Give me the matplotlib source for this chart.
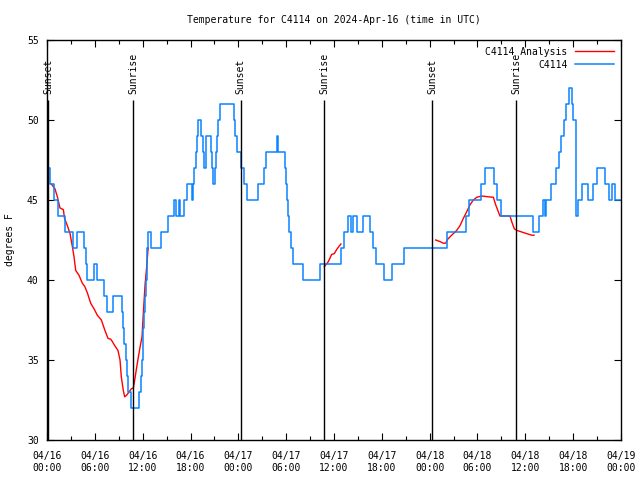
import numpy as np
import matplotlib
matplotlib.use("Agg")
import matplotlib.pyplot as plt

# hours since 2024-04-16 00:00 UTC
obs_hours = [0.05, 0.4, 0.85, 1.4, 2.3, 3.3, 3.8, 4.6, 4.85, 5.05, 5.9, 6.3, 7.2, 7.55, 8.3,
             9.35, 9.55, 9.7, 9.85, 10.0, 10.2, 10.5, 11.6, 11.75, 11.9, 12.0, 12.1, 12.2,
             12.3, 12.4, 12.5, 12.6, 12.65, 13.1, 14.25, 15.2, 15.95, 16.2, 16.5, 16.7, 17.2,
             17.6, 18.15, 18.35, 18.5, 18.65, 18.8, 19.0, 19.3, 19.6, 19.75, 19.9, 20.6, 20.7,
             20.85, 21.05, 21.2, 21.35, 21.5, 21.7, 23.4, 23.6, 23.8, 24.0, 24.35, 24.7, 25.1,
             26.5, 27.2, 27.5, 28.85, 29.0, 29.8, 29.95, 30.1, 30.25, 30.4, 30.6, 30.8, 32.1,
             34.2, 36.9, 37.3, 37.7, 38.1, 38.4, 38.9, 39.7, 40.5, 40.9, 41.3, 42.3, 43.3, 44.8,
             50.2, 52.5, 52.9, 54.4, 54.9, 56.1, 56.5, 56.9, 60.9, 61.75, 62.25, 62.45, 62.65,
             63.2, 63.8, 64.2, 64.5, 64.85, 65.15, 65.45, 65.8, 65.95, 66.3, 66.65, 67.05, 67.8,
             68.5, 69.05, 70.0, 70.5, 70.9, 71.2, 72.0]
obs_temps = [47, 46, 45, 44, 43, 42, 43, 42, 41, 40, 41, 40, 39, 38, 39,
             38, 37, 36, 35, 34, 33, 32, 33, 34, 35, 36, 37, 38,
             39, 40, 41, 42, 43, 42, 43, 44, 45, 44, 45, 44, 45,
             46, 45, 46, 47, 48, 49, 50, 49, 48, 47, 49, 48, 47,
             46, 47, 48, 49, 50, 51, 50, 49, 48, 48, 47, 46, 45,
             46, 47, 48, 49, 48, 47, 46, 45, 44, 43, 42, 41, 40,
             41, 42, 43, 44, 43, 44, 43, 44, 43, 42, 41, 40, 41, 42,
             43, 44, 45, 46, 47, 46, 45, 44, 43, 44, 45, 44, 45,
             46, 47, 48, 49, 50, 51, 52, 51, 50, 44, 45, 46, 45,
             46, 47, 46, 45, 46, 45, 45]

# analysis series, three separate runs
ana1_hours = [0.54, 1.0, 1.3, 1.63, 2.05, 2.2, 2.55, 2.89, 3.05, 3.18, 3.39, 3.6, 4.01, 4.43,
              4.73, 5.06, 5.48, 5.9, 6.31, 6.82, 7.23, 7.65, 7.99, 8.2, 8.49, 8.9, 9.16, 9.32,
              9.57, 9.74, 9.99, 10.29, 10.58, 10.83, 11.0, 11.33, 11.67, 11.92, 12.08, 12.3,
              12.5, 12.65, 12.7]
ana1_temps = [46.0, 45.7, 45.2, 44.5, 44.4, 43.85, 43.4, 42.9, 42.45, 42.1, 41.45, 40.6, 40.3,
              39.8, 39.6, 39.2, 38.55, 38.2, 37.8, 37.5, 36.9, 36.35, 36.3, 36.15, 35.9, 35.6,
              35.0, 33.95, 33.1, 32.7, 32.8, 33.0, 33.2, 33.25, 33.75, 34.8, 35.8, 36.45, 37.9,
              39.7, 40.8, 41.8, 42.0]
ana2_hours = [34.78, 35.29, 35.71, 36.04, 36.33, 36.62, 36.87]
ana2_temps = [40.83, 41.15, 41.6, 41.65, 41.9, 42.1, 42.25]
ana3_hours = [48.75, 49.3, 49.71, 50.01, 50.26, 50.76, 51.39, 51.81, 52.22, 52.65, 53.06, 53.48,
              53.9, 54.53, 55.36, 55.99, 56.28, 56.61, 56.82, 57.45, 58.08, 58.29, 58.62, 58.92,
              59.55, 60.17, 60.8, 61.09]
ana3_temps = [42.5, 42.4, 42.3, 42.3, 42.55, 42.8, 43.1, 43.4, 43.85, 44.27, 44.7, 45.0, 45.17,
              45.25, 45.2, 45.17, 44.7, 44.27, 44.0, 44.0, 44.0, 43.65, 43.2, 43.1, 43.0, 42.9,
              42.8, 42.8]

sun_hours = [0.15, 10.83, 24.3, 34.8, 48.33, 58.87]
sun_labels = ["Sunset", "Sunrise", "Sunset", "Sunrise", "Sunset", "Sunrise"]

xtick_hours = [0, 6, 12, 18, 24, 30, 36, 42, 48, 54, 60, 66, 72]
xtick_labels = ["04/16\n00:00", "04/16\n06:00", "04/16\n12:00", "04/16\n18:00",
                "04/17\n00:00", "04/17\n06:00", "04/17\n12:00", "04/17\n18:00",
                "04/18\n00:00", "04/18\n06:00", "04/18\n12:00", "04/18\n18:00",
                "04/19\n00:00"]

mono = "DejaVu Sans Mono"
fs = 7

fig = plt.figure(figsize=(6.4, 4.8), dpi=100)
ax = fig.add_axes([47/640, 40/480, 574/640, 400/480])

red = "#ff0000"
blue = "#0a84ff"

ax.plot(ana1_hours, ana1_temps, color=red, lw=1, label="C4114 Analysis")
ax.plot(ana2_hours, ana2_temps, color=red, lw=1)
ax.plot(ana3_hours, ana3_temps, color=red, lw=1)
ax.plot(obs_hours, obs_temps, color=blue, lw=1.1, drawstyle="steps-post", label="C4114")

for h, lab in zip(sun_hours, sun_labels):
    ax.vlines(h, 30, 51.25, color="black", lw=1)
    ax.text(h, 51.6, lab, rotation=90, ha="center", va="bottom",
            family=mono, fontsize=fs)

ax.set_xlim(0, 72)
ax.set_ylim(30, 55)
ax.set_xticks(xtick_hours)
ax.set_xticklabels(xtick_labels, family=mono, fontsize=fs)
ax.set_xticks(np.arange(0, 73, 3), minor=True)
ax.set_yticks([30, 35, 40, 45, 50, 55])
ax.set_yticklabels(["30", "35", "40", "45", "50", "55"], family=mono, fontsize=fs)
ax.tick_params(which="both", direction="in", top=True, right=True, width=0.8)
ax.tick_params(which="major", length=5)
ax.tick_params(which="minor", length=3)
ax.tick_params(axis="x", pad=8)
ax.tick_params(axis="y", pad=6)
for s in ax.spines.values():
    s.set_linewidth(1)

fig.text(10/640, 0.5, "degrees F", rotation=90, ha="center", va="center",
         family=mono, fontsize=fs)
ax.set_title("Temperature for C4114 on 2024-Apr-16 (time in UTC)",
             family=mono, fontsize=fs, pad=12)

leg = ax.legend(loc="upper right", frameon=False, markerfirst=False,
                prop={"family": mono, "size": fs}, handlelength=4,
                borderaxespad=0.3, labelspacing=0.3)

fig.savefig("out.png", dpi=100)
